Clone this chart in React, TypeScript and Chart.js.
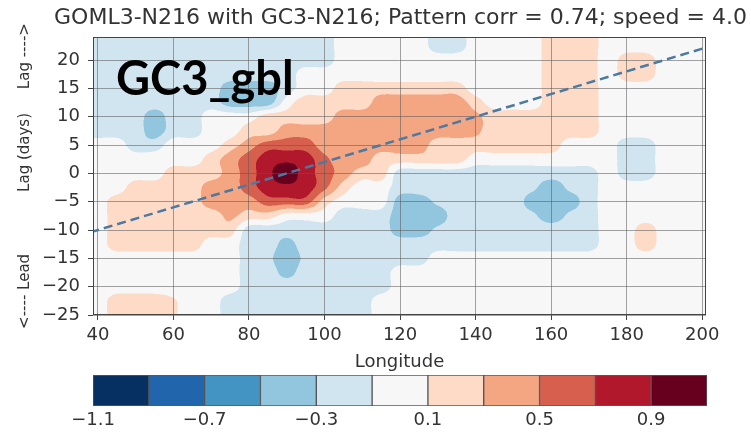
import { useEffect, useRef } from 'react';
import { Chart, registerables } from 'chart.js';

Chart.register(...registerables);

const titleText = 'GOML3-N216 with GC3-N216; Pattern corr = 0.74; speed = 4.0';
const panelLabel = 'GC3_gbl';
const xTitle = 'Longitude';
const yTitle = '<---- Lead             Lag (days)     Lag ---->';

const xTicks = [40, 60, 80, 100, 120, 140, 160, 180, 200];
const yTicks = [-25, -20, -15, -10, -5, 0, 5, 10, 15, 20];
const cbarTicks = [-1.1, -0.7, -0.3, 0.1, 0.5, 0.9];

// contour level boundaries and their colours (RdBu_r, 11 bins)
const levelBounds = [-1.1, -0.9, -0.7, -0.5, -0.3, -0.1, 0.1, 0.3, 0.5, 0.7, 0.9, 1.1];
const levelColors = [
  '#053061', '#2166ac', '#4393c3', '#92c5de', '#d1e5f0', '#f7f7f7',
  '#fddbc7', '#f4a582', '#d6604d', '#b2182b', '#67001f',
];

// grid of the lag-longitude correlation field
const fieldLon = [40, 45, 50, 55, 60, 65, 70, 75, 80, 85, 90, 95, 100, 105, 110, 115, 120,
  125, 130, 135, 140, 145, 150, 155, 160, 165, 170, 175, 180, 185, 190, 195, 200];
const fieldLag = [25, 22.5, 20, 17.5, 15, 12.5, 10, 7.5, 5, 2.5, 0, -2.5, -5, -7.5, -10,
  -12.5, -15, -17.5, -20, -22.5, -25];
const corrField = [
  [-.2, -.2, -.2, -.2, -.2, -.2, -.2, -.2, -.2, -.2, -.2, -.2, -.2, 0, 0, 0, 0, 0, -.2, -.2, 0, 0, 0, 0, .2, .2, .2, 0, 0, 0, 0, 0, 0],
  [-.2, -.2, -.2, -.2, -.2, -.2, -.2, -.2, -.2, -.2, -.2, -.2, -.2, 0, 0, 0, 0, 0, -.2, -.2, 0, 0, 0, 0, .2, .2, .2, 0, 0, 0, 0, 0, 0],
  [-.2, -.2, -.2, -.2, -.2, -.2, -.2, -.2, -.2, -.2, -.2, -.2, -.2, 0, 0, 0, 0, 0, 0, 0, 0, 0, 0, 0, .2, .2, .2, 0, .2, .2, 0, 0, 0],
  [-.2, -.2, -.2, -.2, -.2, -.2, -.2, -.2, -.2, -.2, -.2, 0, 0, 0, 0, 0, 0, 0, 0, 0, 0, 0, 0, 0, .2, .2, .2, 0, .2, .2, 0, 0, 0],
  [-.2, -.2, -.2, -.2, -.2, -.2, -.2, -.4, -.4, -.4, -.2, 0, 0, .2, .2, .2, .2, .2, .2, .2, 0, 0, 0, 0, .2, .2, .2, 0, 0, 0, 0, 0, 0],
  [-.2, -.2, -.2, -.2, -.2, -.2, -.2, -.4, -.4, -.4, 0, .2, .2, .2, .2, .4, .4, .4, .4, .4, .2, 0, 0, 0, .2, .2, .2, 0, 0, 0, 0, 0, 0],
  [-.2, -.2, -.2, -.4, -.2, -.2, 0, 0, 0, .2, .2, .2, .2, .4, .4, .4, .4, .4, .4, .4, .34, .2, .2, .2, .2, .2, .2, 0, 0, 0, 0, 0, 0],
  [-.2, -.2, -.2, -.4, -.2, -.2, 0, 0, .2, .2, .4, .4, .4, .4, .4, .4, .4, .4, .4, .4, .34, .2, .2, .2, .2, .2, .2, 0, 0, 0, 0, 0, 0],
  [0, 0, -.2, -.2, 0, 0, 0, .2, .4, .6, .6, .6, .4, .4, .4, .4, .4, .4, .2, .2, .2, .2, .2, .2, .2, 0, 0, 0, -.2, -.2, 0, 0, 0],
  [0, 0, 0, 0, 0, 0, .2, .4, .6, .8, .85, .8, .55, .4, .4, .2, .2, .2, .2, .2, 0, 0, 0, 0, 0, 0, 0, 0, -.2, -.2, 0, 0, 0],
  [0, 0, 0, 0, .2, .2, .2, .4, .6, .85, 1, .8, .6, .4, .2, .2, -.2, -.2, -.2, -.2, -.2, -.2, -.2, -.2, -.2, -.2, -.2, 0, -.2, -.2, 0, 0, 0],
  [0, 0, .2, .2, .2, .2, .4, .4, .6, .8, .85, .8, .55, .2, 0, 0, -.2, -.2, -.2, -.2, -.2, -.2, -.2, -.26, -.4, -.26, -.2, 0, 0, 0, 0, 0, 0],
  [0, .2, .2, .2, .2, .2, .4, .4, .4, .6, .6, .6, .2, 0, 0, 0, -.4, -.4, -.26, -.2, -.2, -.2, -.2, -.38, -.4, -.38, -.2, 0, 0, 0, 0, 0, 0],
  [0, .2, .2, .2, .2, .2, .2, .34, .2, .2, 0, 0, 0, -.2, -.2, -.2, -.4, -.4, -.4, -.2, -.2, -.2, -.2, -.26, -.4, -.26, -.2, 0, 0, 0, 0, 0, 0],
  [0, .2, .2, .2, .2, .2, .2, .2, -.2, -.2, -.2, -.2, -.2, -.2, -.2, -.2, -.4, -.4, -.26, -.2, -.2, -.2, -.2, -.2, -.2, -.2, -.2, 0, 0, .2, 0, 0, 0],
  [0, .2, .2, .2, .2, .2, 0, 0, -.2, -.2, -.36, -.2, -.2, -.2, -.2, -.2, -.2, -.2, -.2, -.2, -.2, -.2, -.2, -.2, -.2, -.2, -.2, 0, 0, .2, 0, 0, 0],
  [0, 0, 0, 0, 0, 0, 0, 0, -.2, -.26, -.4, -.26, -.2, -.2, -.2, -.2, -.2, -.2, 0, 0, 0, 0, 0, 0, 0, 0, 0, 0, 0, 0, 0, 0, 0],
  [0, 0, 0, 0, 0, 0, 0, 0, -.2, -.2, -.36, -.2, -.2, -.2, -.2, -.2, 0, 0, 0, 0, 0, 0, 0, 0, 0, 0, 0, 0, 0, 0, 0, 0, 0],
  [0, 0, 0, 0, 0, 0, 0, 0, -.2, -.2, -.2, -.2, -.2, -.2, -.2, -.2, 0, 0, 0, 0, 0, 0, 0, 0, 0, 0, 0, 0, 0, 0, 0, 0, 0],
  [0, .2, .2, .2, .12, 0, 0, -.2, -.2, -.2, -.2, -.2, -.2, -.2, -.2, 0, 0, 0, 0, 0, 0, 0, 0, 0, 0, 0, 0, 0, 0, 0, 0, 0, 0],
  [0, .2, .2, .2, .12, 0, 0, -.2, -.2, -.2, -.2, -.2, -.2, -.2, -.2, 0, 0, 0, 0, 0, 0, 0, 0, 0, 0, 0, 0, 0, 0, 0, 0, 0, 0],
];

// propagation line (speed = 4.0)
const fitLon = [38, 202];
const fitLag = [-10.4, 22.4];

const FONT = 'DejaVu Sans';
const TEXT = '#333333';

const fmt = (v: number) => (v < 0 ? '\u2212' + String(Math.abs(v)) : String(v));

function hexToRgb(h: string) {
  const n = parseInt(h.slice(1), 16);
  return [(n >> 16) & 255, (n >> 8) & 255, n & 255];
}

function locate(arr: number[], v: number) {
  const asc = arr[arr.length - 1] > arr[0];
  const lo = Math.min(arr[0], arr[arr.length - 1]);
  const hi = Math.max(arr[0], arr[arr.length - 1]);
  const c = Math.min(Math.max(v, lo), hi);
  let i = 0;
  while (i < arr.length - 2 && (asc ? arr[i + 1] < c : arr[i + 1] > c)) i++;
  const t = (c - arr[i]) / (arr[i + 1] - arr[i]);
  return [i, t];
}

// Catmull-Rom weights used to draw smooth filled contours between grid nodes
function crWeights(t: number) {
  const t2 = t * t, t3 = t2 * t;
  return [
    (-t3 + 2 * t2 - t) / 2,
    (3 * t3 - 5 * t2 + 2) / 2,
    (-3 * t3 + 4 * t2 + t) / 2,
    (t3 - t2) / 2,
  ];
}

const heatPlugin = {
  id: 'heatField',
  beforeDraw(chart: any) {
    const { ctx, chartArea: a, scales } = chart;
    const xs = scales.x;
    const ys = scales.y;
    const L = Math.round(a.left);
    const T = Math.round(a.top);
    const W = Math.round(a.right) - L;
    const H = Math.round(a.bottom) - T;
    const S = 2;
    const nLon = fieldLon.length, nLag = fieldLag.length;
    const colIdx: number[][] = [], colW: number[][] = [];
    for (let k = 0; k < W * S; k++) {
      const [i, t] = locate(fieldLon, xs.getValueForPixel(L + (k + 0.5) / S));
      colIdx.push([i - 1, i, i + 1, i + 2].map((q) => Math.max(0, Math.min(nLon - 1, q))));
      colW.push(crWeights(t));
    }
    const rowIdx: number[][] = [], rowW: number[][] = [];
    for (let k = 0; k < H * S; k++) {
      const [j, t] = locate(fieldLag, ys.getValueForPixel(T + (k + 0.5) / S));
      rowIdx.push([j - 1, j, j + 1, j + 2].map((q) => Math.max(0, Math.min(nLag - 1, q))));
      rowW.push(crWeights(t));
    }
    const rgb = levelColors.map(hexToRgb);
    const img = ctx.createImageData(W, H);
    const d = img.data;
    for (let r = 0; r < H; r++) {
      for (let c = 0; c < W; c++) {
        let R = 0, G = 0, B = 0;
        for (let sy = 0; sy < S; sy++) {
          const yy = r * S + sy;
          const ri = rowIdx[yy], rw = rowW[yy];
          for (let sx = 0; sx < S; sx++) {
            const xx = c * S + sx;
            const ci = colIdx[xx], cw = colW[xx];
            let v = 0;
            for (let p = 0; p < 4; p++) {
              const row = corrField[ri[p]];
              v += rw[p] * (cw[0] * row[ci[0]] + cw[1] * row[ci[1]] + cw[2] * row[ci[2]] + cw[3] * row[ci[3]]);
            }
            let bin = Math.floor((v - levelBounds[0]) / 0.2 + 1e-9);
            bin = Math.max(0, Math.min(levelColors.length - 1, bin));
            R += rgb[bin][0]; G += rgb[bin][1]; B += rgb[bin][2];
          }
        }
        const idx = (r * W + c) * 4;
        d[idx] = R / (S * S); d[idx + 1] = G / (S * S); d[idx + 2] = B / (S * S); d[idx + 3] = 255;
      }
    }
    ctx.putImageData(img, L, T);
  },
  afterDraw(chart: any) {
    const { ctx, chartArea: a } = chart;
    ctx.save();
    ctx.strokeStyle = '#444444';
    ctx.lineWidth = 1;
    ctx.strokeRect(Math.round(a.left) + 0.5, Math.round(a.top) + 0.5,
      Math.round(a.right - a.left) - 1, Math.round(a.bottom - a.top) - 1);
    // title, centred over the axes like matplotlib
    ctx.fillStyle = TEXT;
    ctx.font = `22px "${FONT}"`;
    ctx.textAlign = 'center';
    ctx.textBaseline = 'middle';
    ctx.fillText(titleText, (a.left + a.right) / 2 + 1, a.top - 18.7);
    // panel label
    ctx.fillStyle = '#000000';
    ctx.font = 'bold 47px Lato';
    ctx.textBaseline = 'alphabetic';
    ctx.textAlign = 'left';
    ctx.fillText(panelLabel, a.left + 23, a.top + 58);
    ctx.restore();
  },
};

export default function App() {
  const mainRef = useRef<HTMLCanvasElement | null>(null);
  const barRef = useRef<HTMLCanvasElement | null>(null);

  useEffect(() => {
    if (!mainRef.current || !barRef.current) return;
    const tickFont = { family: FONT, size: 18 };
    const gridColor = 'rgba(90,90,90,0.55)';
    const main = new Chart(mainRef.current, {
      type: 'scatter',
      data: {
        datasets: [{
          data: fitLon.map((x, k) => ({ x, y: fitLag[k] })),
          showLine: true,
          borderColor: '#4a7aa3',
          borderWidth: 2.5,
          borderDash: [9, 5],
          pointRadius: 0,
          fill: false,
        } as any],
      },
      options: {
        responsive: false,
        animation: false,
        devicePixelRatio: 1,
        layout: { padding: { left: 0, right: 45, top: 37, bottom: 0 } },
        plugins: {
          legend: { display: false },
          tooltip: { enabled: false },
          title: { display: false },
        },
        scales: {
          x: {
            type: 'linear',
            min: 38.7,
            max: 201,
            afterBuildTicks: (s: any) => { s.ticks = xTicks.map((v) => ({ value: v })); },
            afterFit: (s: any) => { s.height = 65; },
            grid: { color: gridColor, lineWidth: 1, tickColor: '#444', tickLength: 5 },
            border: { display: false },
            ticks: { font: tickFont, color: TEXT, padding: 5, maxRotation: 0, callback: (v: any) => fmt(Number(v)) },
            title: { display: true, text: xTitle, color: TEXT, font: { family: FONT, size: 18 }, padding: { top: 0, bottom: 6.7 } },
          },
          y: {
            type: 'linear',
            min: -25,
            max: 24.06,
            afterBuildTicks: (s: any) => { s.ticks = yTicks.map((v) => ({ value: v })); },
            afterFit: (s: any) => { s.width = 93; },
            grid: { color: gridColor, lineWidth: 1, tickColor: '#444', tickLength: 5 },
            border: { display: false },
            ticks: { font: tickFont, color: TEXT, padding: 8, callback: (v: any) => fmt(Number(v)) },
            title: { display: true, text: yTitle, color: TEXT, font: { family: FONT, size: 15 }, padding: { top: 16, bottom: 0 } },
          },
        },
      } as any,
      plugins: [heatPlugin],
    });

    const bar = new Chart(barRef.current, {
      type: 'bar',
      data: {
        labels: [''],
        datasets: levelColors.map((c, k) => ({
          data: [[levelBounds[k], levelBounds[k + 1]]],
          backgroundColor: c,
          borderColor: 'rgba(60,60,60,0.85)',
          borderWidth: 1,
          borderSkipped: false,
          grouped: false,
          barPercentage: 1,
          categoryPercentage: 1,
        })) as any,
      },
      options: {
        indexAxis: 'y',
        responsive: false,
        animation: false,
        devicePixelRatio: 1,
        layout: { padding: { left: 93, right: 44, top: 15, bottom: 0 } },
        plugins: { legend: { display: false }, tooltip: { enabled: false } },
        scales: {
          x: {
            type: 'linear',
            min: -1.1,
            max: 1.1,
            afterBuildTicks: (s: any) => { s.ticks = cbarTicks.map((v) => ({ value: v })); },
            afterFit: (s: any) => { s.height = 29; },
            grid: { display: false, drawTicks: false },
            border: { display: false },
            ticks: { font: tickFont, color: TEXT, padding: 4, maxRotation: 0, callback: (v: any) => fmt(Number(v)) },
          },
          y: { display: false },
        },
      } as any,
    });

    return () => { main.destroy(); bar.destroy(); };
  }, []);

  return (
    <div style={{ position: 'fixed', left: 0, top: 0, width: 751, height: 435, background: '#ffffff' }}>
      <canvas ref={mainRef} width={751} height={380} style={{ position: 'absolute', left: 0, top: 0, width: 751, height: 380 }} />
      <canvas ref={barRef} width={751} height={75} style={{ position: 'absolute', left: 0, top: 360, width: 751, height: 75 }} />
    </div>
  );
}
